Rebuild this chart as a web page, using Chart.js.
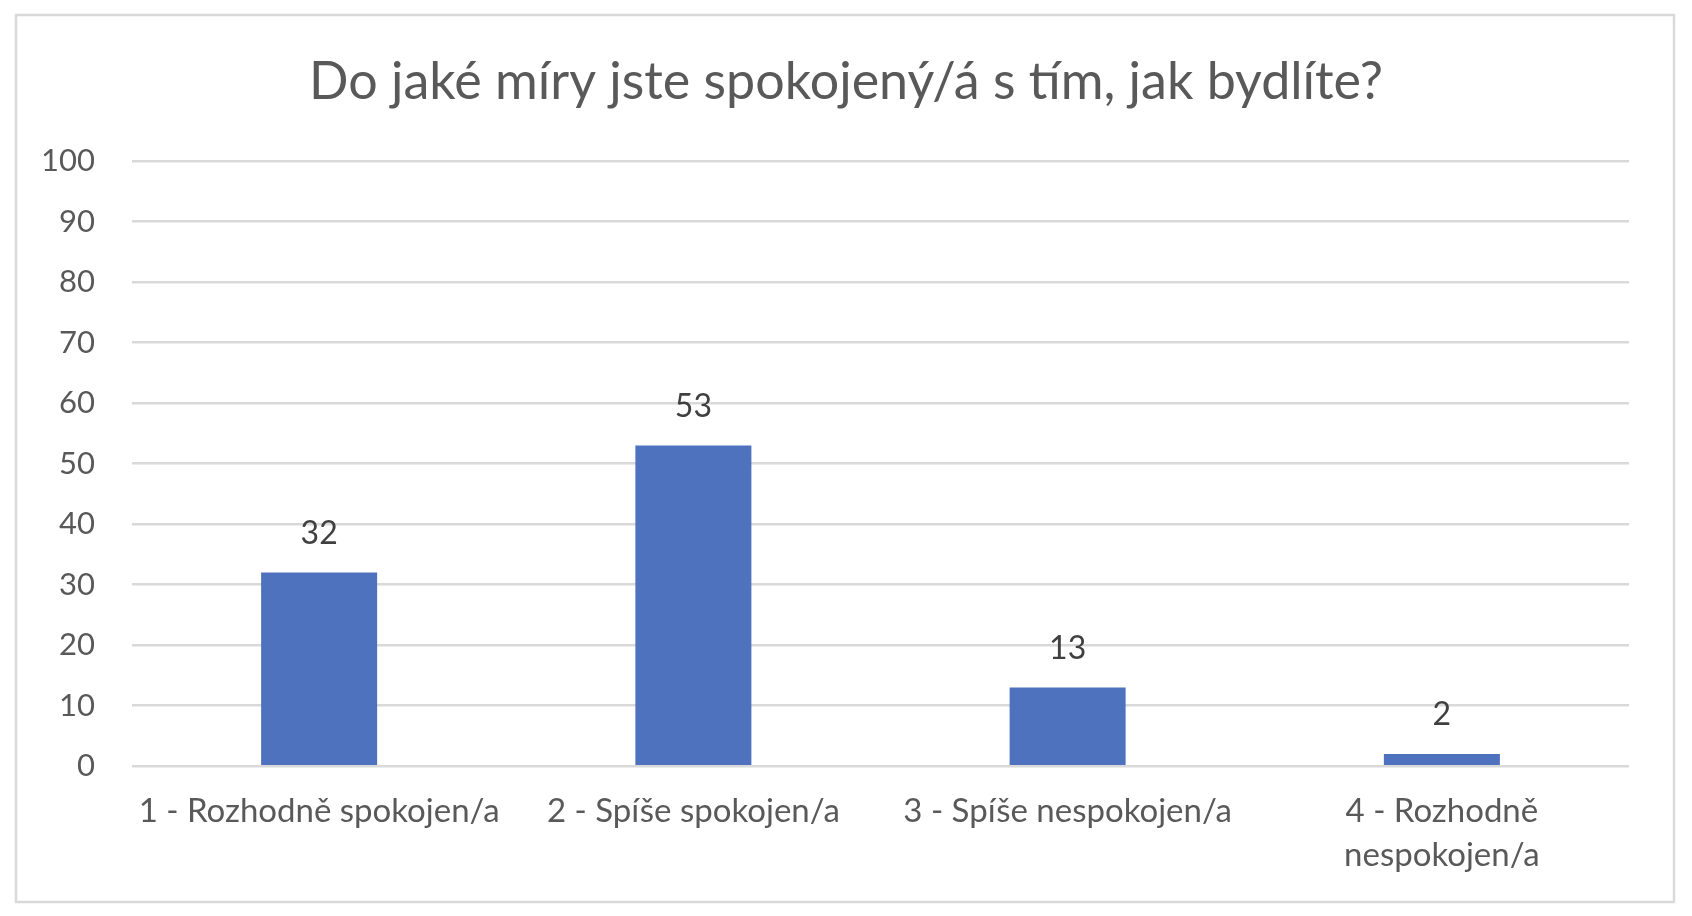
<!DOCTYPE html>
<html>
<head>
<meta charset="utf-8">
<script src="https://cdn.jsdelivr.net/npm/chart.js@4"></script>
<style>
  html, body { margin: 0; padding: 0; background: #ffffff; }
  #wrap { width: 1692px; height: 916px; }
</style>
</head>
<body>
<div id="wrap"><canvas id="chart" width="1692" height="916"></canvas></div>
<script>
// Data
const chartTitle = "Do jaké míry jste spokojený/á s tím, jak bydlíte?";
const categories = [
  "1 - Rozhodně spokojen/a",
  "2 - Spíše spokojen/a",
  "3 - Spíše nespokojen/a",
  ["4 - Rozhodně", "nespokojen/a"],
];
const counts = [32, 53, 13, 2];
const yTicks = [0, 10, 20, 30, 40, 50, 60, 70, 80, 90, 100];

const FONT = "Lato, 'Open Sans', sans-serif";

// White background, light frame and the title centred on the whole canvas
const framePlugin = {
  id: "frame",
  beforeDraw(chart) {
    const ctx = chart.ctx;
    ctx.save();
    ctx.fillStyle = "#ffffff";
    ctx.fillRect(0, 0, chart.width, chart.height);
    ctx.strokeStyle = "#D9D9D9";
    ctx.lineWidth = 2.5;
    ctx.strokeRect(16, 15, 1658, 887);
    ctx.fillStyle = "#595959";
    ctx.font = "52px " + FONT;
    ctx.textAlign = "center";
    ctx.textBaseline = "middle";
    ctx.fillText(chartTitle, chart.width / 2, 82);
    ctx.restore();
  },
};

// Value labels above each bar
const valueLabels = {
  id: "valueLabels",
  afterDatasetsDraw(chart) {
    const ctx = chart.ctx;
    const meta = chart.getDatasetMeta(0);
    ctx.save();
    ctx.fillStyle = "#404040";
    ctx.font = "32px " + FONT;
    ctx.textAlign = "center";
    ctx.textBaseline = "middle";
    meta.data.forEach((bar, i) => {
      ctx.fillText(String(counts[i]), bar.x, bar.y - 39);
    });
    ctx.restore();
  },
};

const ctx = document.getElementById("chart").getContext("2d");
new Chart(ctx, {
  type: "bar",
  data: {
    labels: categories,
    datasets: [
      {
        label: "Počet",
        data: counts,
        backgroundColor: "#4E72BE",
        borderWidth: 0,
        barPercentage: 0.62,
        categoryPercentage: 0.5,
      },
    ],
  },
  options: {
    responsive: false,
    animation: false,
    devicePixelRatio: 1,
    layout: {
      padding: { top: 161, left: 16, right: 63, bottom: 16 },
    },
    plugins: {
      legend: { display: false },
      tooltip: { enabled: false },
      title: { display: false },
    },
    scales: {
      x: {
        grid: { display: false, drawTicks: false },
        border: { display: false },
        ticks: {
          color: "#595959",
          font: { family: FONT, size: 33, lineHeight: 1.33 },
          padding: 23,
          maxRotation: 0,
          autoSkip: false,
        },
      },
      y: {
        min: 0,
        max: 100,
        afterFit(scale) {
          scale.width = 116;
        },
        afterBuildTicks(scale) {
          scale.ticks = yTicks.map((v) => ({ value: v }));
        },
        grid: { color: "#D9D9D9", lineWidth: 2.5, drawTicks: false },
        border: { display: false },
        ticks: {
          color: "#595959",
          font: { family: FONT, size: 31 },
          padding: 37,
        },
      },
    },
  },
  plugins: [framePlugin, valueLabels],
});
</script>
</body>
</html>
